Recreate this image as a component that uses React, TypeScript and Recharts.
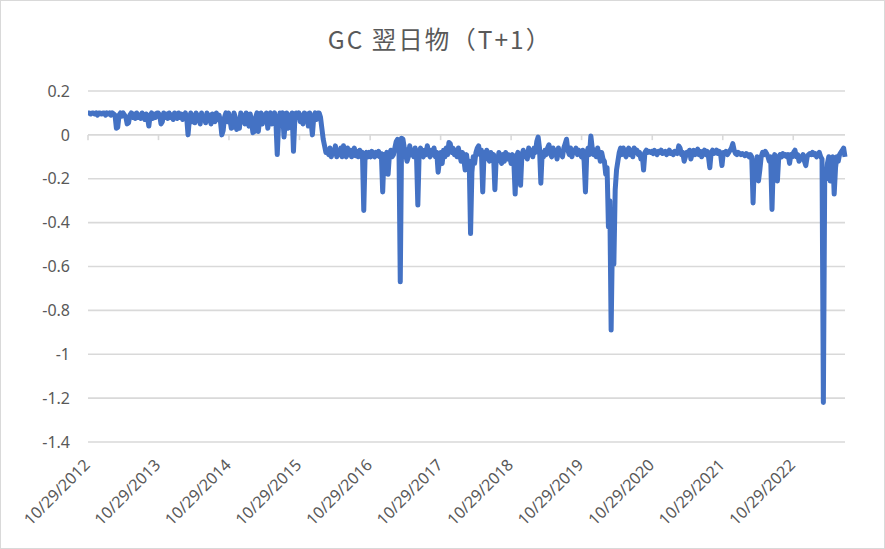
import { LineChart, Line, XAxis, YAxis, CartesianGrid, ReferenceLine } from 'recharts';

// Weekly readings of the GC T+1 rate, one list per year starting 10/29
const y2012 = [0.10, 0.10, 0.095, 0.10, 0.10, 0.095, 0.10, 0.09, 0.10, 0.10, 0.095, 0.10, 0.10, 0.09, 0.10, 0.095, 0.10, 0.09, 0.10, 0.095, 0.09, 0.03, 0.035, 0.09, 0.10, 0.085, 0.10, 0.09, 0.08, 0.05, 0.055, 0.09, 0.10, 0.08, 0.095, 0.075, 0.10, 0.08, 0.09, 0.075, 0.10, 0.085, 0.07, 0.095, 0.08, 0.04, 0.09, 0.10, 0.075, 0.095, 0.08, 0.10];
const y2013 = [0.10, 0.09, 0.05, 0.06, 0.10, 0.08, 0.095, 0.075, 0.10, 0.08, 0.09, 0.07, 0.10, 0.085, 0.075, 0.10, 0.08, 0.095, 0.07, 0.09, 0.10, 0.08, 0.00, 0.07, 0.10, 0.06, 0.09, 0.055, 0.10, 0.065, 0.09, 0.05, 0.10, 0.07, 0.085, 0.055, 0.10, 0.065, 0.09, 0.05, 0.095, 0.08, 0.06, 0.10, 0.07, 0.09, 0.06, 0.00, 0.02, 0.08, 0.10, 0.06];
const y2014 = [0.10, 0.07, 0.03, 0.035, 0.10, 0.08, 0.025, 0.06, 0.03, 0.10, 0.06, 0.09, 0.05, 0.10, 0.07, 0.04, 0.095, 0.06, 0.01, 0.015, 0.08, 0.10, 0.015, 0.07, 0.10, 0.05, 0.09, 0.06, 0.10, 0.03, 0.08, 0.10, 0.05, 0.09, 0.10, 0.06, -0.09, 0.05, 0.10, 0.08, 0.10, -0.01, 0.06, 0.10, 0.03, 0.09, 0.07, 0.10, -0.075, 0.07, 0.10, 0.09];
const y2015 = [0.10, 0.06, 0.09, 0.05, 0.10, 0.07, 0.095, 0.04, 0.10, 0.06, 0.00, 0.08, 0.10, 0.07, 0.10, 0.10, 0.08, 0.03, -0.02, -0.05, -0.08, -0.07, -0.09, -0.06, -0.10, -0.07, -0.085, -0.05, -0.10, -0.07, -0.09, -0.06, -0.10, -0.05, -0.08, -0.10, -0.06, -0.09, -0.07, -0.10, -0.08, -0.06, -0.095, -0.075, -0.10, -0.07, -0.09, -0.08, -0.345, -0.09, -0.08, -0.10];
const y2016 = [-0.08, -0.10, -0.075, -0.09, -0.10, -0.08, -0.095, -0.075, -0.10, -0.085, -0.26, -0.09, -0.10, -0.08, -0.18, -0.09, -0.07, -0.10, -0.09, -0.06, -0.03, -0.02, -0.03, -0.67, -0.015, -0.02, -0.06, -0.09, -0.12, -0.10, -0.05, -0.09, -0.07, -0.10, -0.06, -0.09, -0.32, -0.08, -0.06, -0.09, -0.10, -0.07, -0.09, -0.05, -0.08, -0.10, -0.07, -0.09, -0.06, -0.10, -0.08, -0.17];
const y2017 = [-0.12, -0.08, -0.13, -0.07, -0.10, -0.06, -0.09, -0.035, -0.04, -0.08, -0.06, -0.09, -0.07, -0.10, -0.06, -0.09, -0.12, -0.08, -0.11, -0.16, -0.09, -0.14, -0.12, -0.45, -0.17, -0.10, -0.13, -0.08, -0.06, -0.05, -0.09, -0.07, -0.26, -0.08, -0.11, -0.07, -0.10, -0.12, -0.08, -0.10, -0.09, -0.25, -0.10, -0.12, -0.08, -0.11, -0.13, -0.09, -0.12, -0.08, -0.11, -0.09];
const y2018 = [-0.10, -0.13, -0.09, -0.12, -0.27, -0.10, -0.08, -0.13, -0.23, -0.09, -0.07, -0.10, -0.08, -0.11, -0.06, -0.09, -0.07, -0.10, -0.06, -0.08, -0.03, -0.01, -0.06, -0.22, -0.08, -0.10, -0.07, -0.09, -0.06, -0.045, -0.08, -0.10, -0.06, -0.09, -0.07, -0.11, -0.06, -0.09, -0.08, -0.10, -0.06, -0.04, -0.02, -0.07, -0.09, -0.06, -0.10, -0.07, -0.08, -0.06, -0.09, -0.07];
const y2019 = [-0.08, -0.10, -0.07, -0.12, -0.26, -0.08, -0.06, -0.09, -0.005, -0.06, -0.09, -0.07, -0.10, -0.06, -0.09, -0.12, -0.08, -0.11, -0.12, -0.18, -0.15, -0.42, -0.30, -0.89, -0.45, -0.59, -0.25, -0.16, -0.12, -0.08, -0.06, -0.09, -0.06, -0.08, -0.10, -0.07, -0.06, -0.09, -0.07, -0.10, -0.06, -0.08, -0.07, -0.09, -0.08, -0.11, -0.09, -0.16, -0.08, -0.07, -0.08, -0.075];
const y2020 = [-0.08, -0.075, -0.085, -0.07, -0.08, -0.09, -0.075, -0.08, -0.07, -0.085, -0.08, -0.075, -0.09, -0.08, -0.07, -0.085, -0.08, -0.09, -0.075, -0.08, -0.085, -0.05, -0.06, -0.09, -0.08, -0.12, -0.10, -0.08, -0.09, -0.07, -0.11, -0.085, -0.07, -0.09, -0.08, -0.065, -0.09, -0.075, -0.10, -0.08, -0.07, -0.09, -0.075, -0.10, -0.15, -0.08, -0.07, -0.085, -0.08, -0.07, -0.085, -0.075];
const y2021 = [-0.09, -0.14, -0.08, -0.085, -0.075, -0.09, -0.08, -0.07, -0.06, -0.04, -0.07, -0.085, -0.09, -0.08, -0.085, -0.09, -0.085, -0.09, -0.095, -0.085, -0.09, -0.10, -0.09, -0.10, -0.31, -0.12, -0.15, -0.10, -0.21, -0.16, -0.10, -0.08, -0.09, -0.075, -0.085, -0.10, -0.12, -0.10, -0.34, -0.12, -0.09, -0.15, -0.21, -0.10, -0.09, -0.10, -0.085, -0.095, -0.09, -0.10, -0.09, -0.13];
const y2022 = [-0.09, -0.10, -0.08, -0.07, -0.10, -0.09, -0.12, -0.11, -0.10, -0.09, -0.12, -0.14, -0.10, -0.09, -0.085, -0.09, -0.08, -0.09, -0.085, -0.10, -0.09, -0.08, -0.10, -0.11, -1.22, -0.18, -0.20, -0.13, -0.10, -0.21, -0.12, -0.10, -0.27, -0.15, -0.10, -0.12, -0.09, -0.08, -0.07, -0.06, -0.10];

const xTickLabels = ['10/29/2012', '10/29/2013', '10/29/2014', '10/29/2015', '10/29/2016', '10/29/2017', '10/29/2018', '10/29/2019', '10/29/2020', '10/29/2021', '10/29/2022'];
const yTicks = [0.2, 0, -0.2, -0.4, -0.6, -0.8, -1, -1.2, -1.4];

const DAY = 86400000;
const STEP = 7 * DAY;
const START = Date.UTC(2012, 9, 29);

const values = [...y2012, ...y2013, ...y2014, ...y2015, ...y2016, ...y2017, ...y2018, ...y2019, ...y2020, ...y2021, ...y2022];
const data = values.map((v, i) => ({ t: START + i * STEP, v }));

const xTicks = xTickLabels.map((s) => {
  const [m, d, y] = s.split('/').map(Number);
  return Date.UTC(y, m - 1, d);
});

const GRID = '#d9d9d9';
const TEXT = '#595959';

const DateTick = (props: any) => {
  const { x, y, payload } = props;
  const label = xTickLabels[xTicks.indexOf(payload.value)];
  return (
    <text
      transform={`translate(${x + 3},${y + 24}) rotate(-45)`}
      textAnchor="end"
      fill={TEXT}
      fontSize={16}
      fontFamily="'Noto Sans', sans-serif"
    >
      {label}
    </text>
  );
};

const App = () => {
  return (
    <div style={{ position: 'absolute', left: 0, top: 0, width: 885, height: 549, background: '#fff' }}>
      <div
        style={{
          position: 'absolute',
          left: 0,
          top: 24,
          width: 880,
          textAlign: 'center',
          fontFamily: "'Noto Sans CJK JP', sans-serif",
          fontSize: 24.5,
          lineHeight: '30px',
          letterSpacing: 2,
          color: TEXT,
        }}
      >
        GC 翌日物（T+1）
      </div>
      <LineChart width={885} height={549} data={data} margin={{ top: 91, right: 40, left: 0, bottom: 0 }}>
        <CartesianGrid vertical={false} stroke={GRID} strokeWidth={1.6} />
        <XAxis
          dataKey="t"
          type="number"
          domain={['dataMin', 'dataMax']}
          ticks={xTicks}
          interval={0}
          tick={<DateTick />}
          tickLine={false}
          axisLine={false}
          tickSize={0}
          tickMargin={0}
          height={107}
        />
        <YAxis
          type="number"
          domain={[-1.4, 0.2]}
          ticks={yTicks}
          interval={0}
          tickFormatter={(v: number) => String(Number(v.toFixed(1)))}
          tick={{ fill: TEXT, fontSize: 16, fontFamily: "'Noto Sans', sans-serif" }}
          tickLine={false}
          axisLine={false}
          tickSize={0}
          tickMargin={18}
          width={88}
        />
        {xTicks.map((t) => (
          <ReferenceLine key={t} segment={[{ x: t, y: 0 }, { x: t, y: -0.024 }]} stroke={GRID} strokeWidth={1.6} />
        ))}
        <Line
          type="linear"
          dataKey="v"
          stroke="#4472C4"
          strokeWidth={5}
          strokeLinejoin="round"
          dot={false}
          activeDot={false}
          isAnimationActive={false}
        />
      </LineChart>
      <div style={{ position: 'absolute', inset: 0, border: `1px solid ${GRID}`, pointerEvents: 'none' }} />
    </div>
  );
};

export default App;
